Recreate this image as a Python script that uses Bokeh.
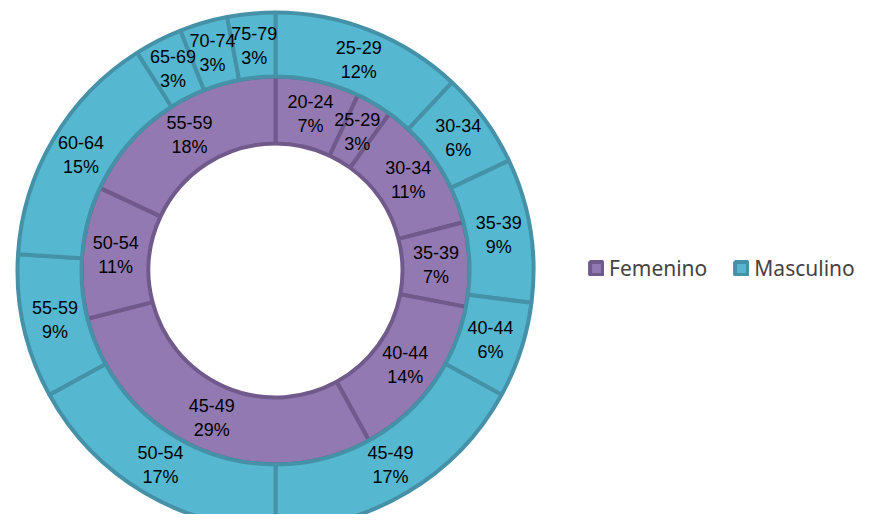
import numpy as np
from bokeh.plotting import figure
from bokeh.models import ColumnDataSource, Legend, LegendItem
from bokeh.embed import file_html
from bokeh.resources import INLINE

fem_groups = ["20-24", "25-29", "30-34", "35-39", "40-44", "45-49", "50-54", "55-59"]
fem_pct = [7, 3, 11, 7, 14, 29, 11, 18]

masc_groups = ["25-29", "30-34", "35-39", "40-44", "45-49", "50-54", "55-59",
               "60-64", "65-69", "70-74", "75-79"]
masc_pct = [12, 6, 9, 6, 17, 17, 9, 15, 3, 3, 3]

series_names = ["Femenino", "Masculino"]
fill_colors = ["#9379B1", "#55B8D0"]
line_colors = ["#705A8C", "#4592A8"]

R_HOLE, R_MID, R_OUT = 127, 194, 258


def ring(groups, pct, r_in, r_out):
    v = np.array(pct, dtype=float)
    frac = v / v.sum()
    cum_end = np.cumsum(frac)
    cum_start = cum_end - frac
    start = np.pi / 2 - cum_end * 2 * np.pi
    end = np.pi / 2 - cum_start * 2 * np.pi
    mid = (start + end) / 2
    rl = (r_in + r_out) / 2
    return ColumnDataSource(dict(
        start=start, end=end,
        lx=rl * np.cos(mid), ly=rl * np.sin(mid),
        label=[f"{g}\n{int(p)}%" for g, p in zip(groups, pct)],
    ))


W, H = 871, 514
cx_px, cy_px = 275, 270
p = figure(width=W, height=H, x_range=(-cx_px, W - cx_px), y_range=(cy_px - H, cy_px),
           output_backend="svg", toolbar_location=None, min_border=0)
p.axis.visible = False
p.grid.visible = False
p.outline_line_color = None
p.background_fill_color = "white"

renderers = []
for i, (groups, pct, r_in, r_out) in enumerate([(fem_groups, fem_pct, R_HOLE, R_MID),
                                                  (masc_groups, masc_pct, R_MID, R_OUT)]):
    src = ring(groups, pct, r_in, r_out)
    r = p.annular_wedge(x=0, y=0, inner_radius=r_in, outer_radius=r_out,
                        start_angle="start", end_angle="end", source=src,
                        fill_color=fill_colors[i], line_color=line_colors[i], line_width=4)
    renderers.append(r)
    p.text(x="lx", y="ly", text="label", source=src, text_align="center",
           text_baseline="middle", text_font_size="18px", text_color="black",
           text_font={"value": "Liberation Sans"}, text_line_height=1.2)

legend = Legend(items=[LegendItem(label=series_names[i], renderers=[renderers[i]])
                       for i in range(2)],
                orientation="horizontal", location=(588, 232),
                label_text_font="Noto Sans", label_text_font_size="21px",
                glyph_width=16, glyph_height=16, label_standoff=5, spacing=26,
                padding=0, margin=0, border_line_color=None,
                background_fill_alpha=0)
p.add_layout(legend, "center")

open("out.html", "w").write(file_html(p, INLINE))
